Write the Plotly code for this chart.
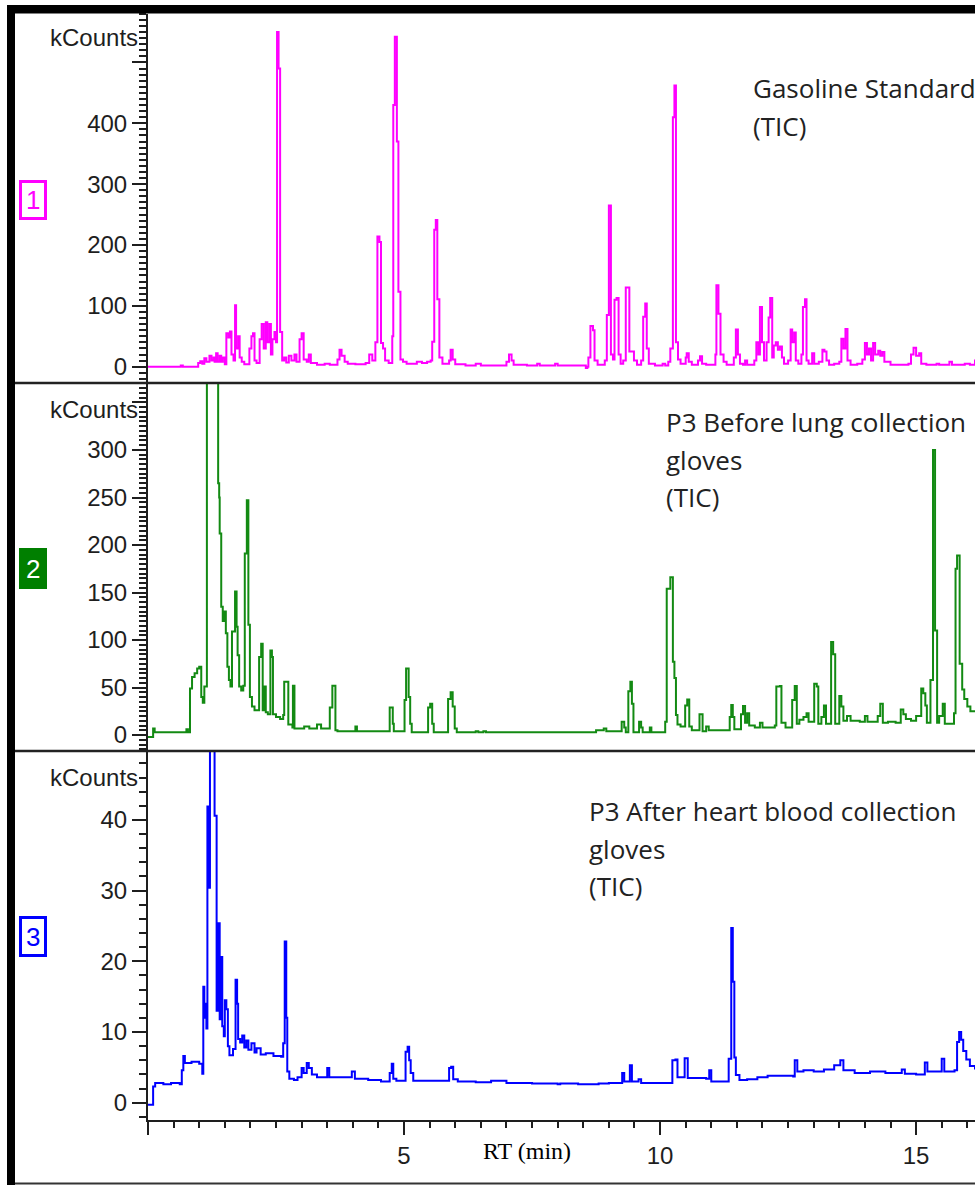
import plotly.graph_objects as go

W, H = 975, 1185

# Chromatogram readings: (retention time in min, intensity in kCounts)
gasoline_standard = [
    (0.00, 0), (0.64, 2), (0.68, 0), (0.98, 6), (1.02, 9), (1.06, 5), (1.10, 14), (1.14, 8),
    (1.20, 18), (1.24, 10), (1.28, 15), (1.30, 8), (1.33, 22), (1.36, 8), (1.40, 18), (1.43, 8),
    (1.46, 15), (1.50, 4), (1.53, 55), (1.57, 48), (1.60, 58), (1.63, 20), (1.67, 10), (1.70, 101),
    (1.72, 30), (1.76, 50), (1.79, 15), (1.83, 8), (1.88, 4), (1.98, 30), (2.02, 50), (2.05, 55),
    (2.08, 10), (2.12, 6), (2.18, 45), (2.22, 70), (2.26, 30), (2.30, 73), (2.33, 40), (2.37, 70),
    (2.40, 20), (2.43, 45), (2.47, 57), (2.50, 40), (2.52, 550), (2.55, 490), (2.58, 57), (2.62, 10),
    (2.66, 15), (2.70, 7), (2.75, 18), (2.80, 10), (2.86, 20), (2.90, 8), (2.96, 45), (3.00, 55),
    (3.04, 12), (3.10, 8), (3.14, 20), (3.18, 6), (3.30, 3), (3.45, 5), (3.55, 3), (3.70, 12),
    (3.74, 28), (3.78, 18), (3.84, 8), (3.90, 5), (4.05, 4), (4.25, 6), (4.32, 20), (4.38, 10),
    (4.44, 40), (4.48, 214), (4.52, 205), (4.55, 39), (4.59, 30), (4.63, 10), (4.70, 6), (4.77, 50),
    (4.79, 430), (4.82, 542), (4.86, 370), (4.89, 123), (4.93, 12), (4.98, 8), (5.05, 5), (5.25, 8),
    (5.35, 6), (5.45, 8), (5.52, 10), (5.55, 41), (5.59, 225), (5.62, 241), (5.65, 111), (5.69, 15),
    (5.75, 5), (5.88, 10), (5.91, 28), (5.95, 12), (6.00, 4), (6.20, 2), (6.40, 5), (6.50, 2),
    (6.90, 2), (7.00, 8), (7.05, 20), (7.10, 10), (7.14, 3), (7.40, 2), (7.60, 5), (7.65, 2),
    (7.95, 5), (8.00, 2), (8.55, -2), (8.58, 0), (8.60, 15), (8.64, 67), (8.69, 60), (8.72, 10),
    (8.78, 3), (8.92, 10), (8.96, 85), (9.00, 265), (9.04, 20), (9.08, 12), (9.11, 110), (9.15, 113),
    (9.19, 20), (9.23, 5), (9.28, 10), (9.33, 130), (9.40, 25), (9.49, 10), (9.55, 3), (9.63, 10),
    (9.67, 82), (9.71, 104), (9.74, 30), (9.78, 5), (9.90, 2), (10.05, 5), (10.10, 2), (10.16, 8),
    (10.20, 30), (10.25, 410), (10.28, 462), (10.31, 40), (10.35, 12), (10.40, 5), (10.50, 15), (10.52, 22),
    (10.56, 8), (10.62, 3), (10.74, 10), (10.78, 17), (10.82, 5), (10.90, 3), (11.05, 3), (11.08, 20),
    (11.10, 134), (11.14, 87), (11.18, 20), (11.24, 8), (11.30, 3), (11.44, 15), (11.48, 61), (11.52, 20),
    (11.56, 5), (11.62, 3), (11.66, 10), (11.70, 3), (11.84, 10), (11.88, 40), (11.92, 20), (11.95, 98),
    (11.99, 40), (12.03, 10), (12.08, 40), (12.12, 81), (12.15, 113), (12.19, 15), (12.22, 35), (12.26, 40),
    (12.30, 28), (12.34, 33), (12.38, 15), (12.42, 5), (12.50, 10), (12.55, 61), (12.58, 40), (12.62, 56),
    (12.65, 10), (12.70, 5), (12.76, 20), (12.79, 98), (12.83, 111), (12.86, 10), (12.90, 5), (12.97, 22),
    (13.01, 5), (13.10, 8), (13.17, 28), (13.21, 25), (13.25, 10), (13.30, 3), (13.40, 5), (13.50, 8),
    (13.54, 46), (13.58, 30), (13.62, 62), (13.66, 10), (13.72, 3), (13.85, 5), (13.95, 12), (14.00, 39),
    (14.04, 20), (14.08, 30), (14.12, 10), (14.16, 39), (14.20, 20), (14.26, 26), (14.30, 18), (14.34, 24),
    (14.38, 8), (14.50, 3), (14.70, 3), (14.85, 5), (14.90, 20), (14.95, 31), (15.00, 18), (15.06, 22),
    (15.10, 5), (15.20, 3), (15.40, 5), (15.45, 3), (15.65, 8), (15.70, 3), (15.95, 5), (16.05, 3),
    (16.15, 12),
]

p3_before_lung = [
    (0.00, -2), (0.10, 7), (0.13, 3), (0.75, 6), (0.78, 3), (0.82, 49), (0.86, 61), (0.91, 65),
    (0.96, 70), (1.00, 72), (1.04, 40), (1.07, 34), (1.10, 51), (1.15, 395), (1.37, 265), (1.39, 250),
    (1.40, 212), (1.43, 135), (1.46, 120), (1.49, 130), (1.52, 107), (1.55, 72), (1.58, 58), (1.61, 51),
    (1.64, 109), (1.70, 151), (1.73, 114), (1.75, 84), (1.78, 51), (1.82, 47), (1.86, 52), (1.89, 191),
    (1.93, 247), (1.96, 116), (1.99, 40), (2.03, 30), (2.08, 26), (2.17, 82), (2.21, 96), (2.24, 26),
    (2.27, 51), (2.30, 24), (2.34, 22), (2.39, 89), (2.42, 82), (2.44, 22), (2.50, 19), (2.58, 17),
    (2.64, 21), (2.66, 56), (2.74, 11), (2.82, 8), (2.83, 52), (2.86, 7), (2.95, 7), (3.05, 9),
    (3.15, 7), (3.30, 11), (3.38, 7), (3.55, 29), (3.60, 52), (3.66, 5), (3.70, 4), (4.05, 9),
    (4.08, 4), (4.72, 29), (4.78, 12), (4.80, 4), (5.01, 37), (5.04, 70), (5.09, 40), (5.12, 12),
    (5.15, 3), (5.47, 29), (5.51, 33), (5.55, 12), (5.58, 3), (5.86, 38), (5.91, 45), (5.95, 30),
    (5.99, 7), (6.03, 3), (6.40, 4), (6.45, 3), (6.55, 4), (6.60, 3), (8.70, 3), (8.75, 5),
    (8.90, 7), (8.95, 4), (9.25, 14), (9.30, 8), (9.33, 3), (9.38, 46), (9.42, 56), (9.45, 33),
    (9.48, 3), (9.59, 14), (9.63, 8), (9.66, 3), (9.80, 8), (9.83, 3), (10.10, 14), (10.13, 154),
    (10.20, 166), (10.25, 77), (10.28, 60), (10.31, 21), (10.34, 11), (10.40, 9), (10.49, 31), (10.53, 37.5),
    (10.57, 9), (10.62, 5), (10.77, 22), (10.83, 4), (10.90, 9), (10.95, 5), (11.20, 5), (11.36, 19),
    (11.39, 31.5), (11.42, 19), (11.45, 6), (11.58, 22), (11.62, 30.5), (11.66, 13), (11.70, 23), (11.74, 10),
    (11.85, 8), (11.95, 13), (12.00, 8), (12.24, 10), (12.27, 51), (12.34, 51.5), (12.37, 13), (12.45, 8),
    (12.58, 37), (12.63, 51.6), (12.67, 12), (12.72, 16), (12.80, 19), (12.86, 23), (12.90, 14), (13.01, 54),
    (13.06, 51), (13.09, 12), (13.15, 19), (13.20, 31), (13.24, 12), (13.34, 98), (13.38, 85), (13.42, 12),
    (13.50, 41), (13.54, 30), (13.58, 15), (13.65, 20), (13.72, 15), (13.90, 14), (14.00, 20), (14.05, 14),
    (14.25, 20), (14.30, 33), (14.35, 13), (14.45, 14), (14.60, 13), (14.70, 27), (14.75, 22), (14.80, 17),
    (14.90, 15), (15.00, 20), (15.10, 49), (15.14, 44), (15.18, 31), (15.21, 13), (15.28, 58), (15.33, 300),
    (15.37, 110), (15.41, 13), (15.45, 20), (15.52, 33), (15.56, 12), (15.68, 12), (15.74, 23), (15.77, 175),
    (15.80, 189), (15.85, 75), (15.90, 48), (15.94, 38), (16.00, 30), (16.06, 25), (16.15, 25),
]

p3_after_heart_blood = [
    (0.00, -0.3), (0.10, 2.3), (0.14, 2.8), (0.30, 2.6), (0.45, 2.8), (0.62, 2.6), (0.66, 4.6), (0.69, 6.6),
    (0.72, 5.6), (0.85, 5.8), (1.00, 5.5), (1.06, 4.1), (1.08, 16.4), (1.10, 12), (1.12, 14), (1.14, 10.5),
    (1.16, 41.9), (1.19, 30.4), (1.21, 52), (1.30, 40.6), (1.34, 13), (1.37, 25.4), (1.40, 11.8), (1.42, 20.6),
    (1.45, 10.8), (1.48, 9.4), (1.50, 14.5), (1.53, 13.2), (1.56, 8), (1.59, 6.7), (1.66, 7.6), (1.71, 17.4),
    (1.74, 14), (1.76, 9), (1.80, 8.5), (1.84, 9.5), (1.88, 7.8), (1.92, 8.8), (1.96, 7.5), (2.02, 8.4),
    (2.08, 7.1), (2.12, 7.7), (2.20, 6.8), (2.30, 7.0), (2.45, 6.6), (2.60, 6.5), (2.64, 8.4), (2.67, 22.8),
    (2.70, 12), (2.72, 4.4), (2.76, 3.4), (2.85, 3.2), (2.92, 3.6), (3.00, 4.9), (3.04, 4.2), (3.10, 5.6),
    (3.14, 4.9), (3.20, 4.0), (3.30, 3.6), (3.50, 4.9), (3.54, 3.6), (3.98, 4.4), (4.04, 3.4), (4.30, 3.2),
    (4.55, 3.0), (4.72, 4.2), (4.76, 5.5), (4.79, 3.4), (4.85, 3.1), (5.03, 7.2), (5.07, 7.9), (5.10, 6.0),
    (5.13, 4.2), (5.18, 3.1), (5.88, 4.9), (5.92, 5.1), (5.96, 3.3), (6.05, 3.0), (6.40, 2.9), (6.70, 3.1),
    (7.00, 2.8), (7.50, 2.7), (8.00, 2.6), (8.05, 2.7), (8.40, 2.6), (8.80, 2.7), (9.00, 2.8), (9.26, 4.2),
    (9.30, 3.0), (9.41, 5.3), (9.45, 3.0), (9.58, 3.3), (9.63, 2.8), (10.24, 6.0), (10.30, 6.1), (10.34, 3.6),
    (10.48, 6.3), (10.54, 3.5), (10.90, 3.4), (10.96, 4.6), (11.00, 3.0), (11.34, 6.2), (11.39, 24.7), (11.42, 17.1),
    (11.45, 6.4), (11.48, 3.9), (11.55, 3.2), (11.70, 3.3), (11.90, 3.6), (12.10, 3.8), (12.40, 3.8), (12.60, 3.7),
    (12.63, 6.0), (12.68, 4.4), (12.80, 4.6), (13.00, 4.4), (13.20, 4.7), (13.40, 5.3), (13.52, 6.0), (13.58, 4.6),
    (13.80, 4.2), (14.10, 4.4), (14.40, 4.2), (14.72, 4.7), (14.78, 4.1), (15.00, 4.0), (15.17, 5.7), (15.22, 4.4),
    (15.50, 6.2), (15.55, 4.4), (15.75, 4.6), (15.80, 8.6), (15.84, 10.0), (15.88, 8.9), (15.92, 7.3), (15.98, 6.1),
    (16.05, 5.2), (16.15, 4.7),
]

x_tick_vals = [0, 5, 10, 15]
x_tick_text = ["", "5", "10", "15"]
y1_tick_vals = [0, 100, 200, 300, 400, 500]
y1_tick_text = ["0", "100", "200", "300", "400", ""]
y2_tick_vals = [0, 50, 100, 150, 200, 250, 300, 350]
y2_tick_text = ["0", "50", "100", "150", "200", "250", "300", ""]
y3_tick_vals = [0, 10, 20, 30, 40]
y3_tick_text = ["0", "10", "20", "30", "40"]

panel_titles = [
    ["Gasoline Standard", "(TIC)"],
    ["P3 Before lung collection", "gloves", "(TIC)"],
    ["P3 After heart blood collection", "gloves", "(TIC)"],
]
panel_numbers = ["1", "2", "3"]
panel_colors = ["#ff00ff", "#138a13", "#0000ff"]


def fx(p):
    """pixel column -> paper x"""
    return p / W


def fy(p):
    """pixel row -> paper y"""
    return 1 - p / H


AXIS_COL = "#1e1e1e"
TICK_FONT = dict(family="Liberation Sans, Arial, sans-serif", size=24, color="#1e1e1e")
X_DOM = [fx(148), 1.0]
X_RANGE = [0, 16.15]

# panel boundaries in pixel rows: (top, bottom)
panel_rows = [(13.5, 383), (383, 751), (751, 1120)]
y_ranges = [[-26.8, 580.4], [-16.8, 370.5], [-2.45, 49.75]]
y_ticks = [(y1_tick_vals, y1_tick_text, 10), (y2_tick_vals, y2_tick_text, 5), (y3_tick_vals, y3_tick_text, 2)]
series = [gasoline_standard, p3_before_lung, p3_after_heart_blood]

fig = go.Figure()
layout = dict(
    width=W, height=H, autosize=False,
    margin=dict(l=0, r=0, t=0, b=0, pad=0),
    paper_bgcolor="white", plot_bgcolor="white",
    showlegend=False,
)

for i, (pts, color) in enumerate(zip(series, panel_colors)):
    n = i + 1
    sfx = str(n) if n > 1 else ""
    xs = [p[0] for p in pts]
    ys = [p[1] for p in pts]
    fig.add_trace(go.Scatter(
        x=xs, y=ys, mode="lines",
        line=dict(color=color, width=2, shape="hv"),
        xaxis="x" + sfx, yaxis="y" + sfx,
        hoverinfo="skip",
    ))
    top, bot = panel_rows[i]
    tv, tt, minor_step = y_ticks[i]
    layout["yaxis" + sfx] = dict(
        domain=[fy(bot), fy(top)], range=y_ranges[i],
        anchor="x" + sfx,
        showline=True, linecolor=AXIS_COL, linewidth=2,
        showgrid=False, zeroline=False,
        ticks="outside", ticklen=14, tickwidth=2, tickcolor=AXIS_COL,
        tickmode="array", tickvals=tv, ticktext=tt, tickfont=TICK_FONT,
        minor=dict(ticks="outside", ticklen=7, tickwidth=2, tickcolor=AXIS_COL,
                   tickmode="linear", tick0=0, dtick=minor_step, showgrid=False),
    )
    xa = dict(
        domain=X_DOM, range=X_RANGE, anchor="y" + sfx,
        showgrid=False, zeroline=False,
    )
    if n < 3:
        xa.update(showline=False, showticklabels=False, ticks="")
    else:
        xa.update(
            showline=True, linecolor=AXIS_COL, linewidth=2,
            ticks="outside", ticklen=13, tickwidth=2, tickcolor=AXIS_COL,
            tickmode="array", tickvals=x_tick_vals, ticktext=x_tick_text, tickfont=TICK_FONT,
            minor=dict(ticks="outside", ticklen=6, tickwidth=2, tickcolor=AXIS_COL,
                       tickmode="linear", tick0=0, dtick=0.5, showgrid=False),
        )
    layout["xaxis" + sfx] = xa

shapes = []
annotations = []

# outer frame: heavy bars on the left and top, thin rule at the bottom
shapes.append(dict(type="rect", xref="paper", yref="paper", x0=fx(7), x1=fx(15), y0=fy(1185), y1=fy(5),
                   fillcolor="black", line=dict(width=0), layer="above"))
shapes.append(dict(type="rect", xref="paper", yref="paper", x0=fx(7), x1=fx(975), y0=fy(13.5), y1=fy(5),
                   fillcolor="black", line=dict(width=0), layer="above"))
shapes.append(dict(type="line", xref="paper", yref="paper", x0=fx(15), x1=1, y0=fy(1183.5), y1=fy(1183.5),
                   line=dict(color="#333333", width=2)))
# separators between panels
for row in (383, 751):
    shapes.append(dict(type="line", xref="paper", yref="paper", x0=fx(15), x1=1, y0=fy(row), y1=fy(row),
                       line=dict(color="#222222", width=2.5)))

# numbered panel badges
badge_rows = [(180, 220), (548, 589), (916, 957)]
for i, (r0, r1) in enumerate(badge_rows):
    color = panel_colors[i]
    filled = i == 1
    shapes.append(dict(type="rect", xref="paper", yref="paper", x0=fx(20.5), x1=fx(45.5), y0=fy(r1 - 1.5), y1=fy(r0 + 1.5),
                       fillcolor=("#007f00" if filled else "rgba(0,0,0,0)"),
                       line=dict(color=("#007f00" if filled else color), width=3)))
    annotations.append(dict(xref="paper", yref="paper", x=fx(33), y=fy((r0 + r1) / 2),
                            text=panel_numbers[i], showarrow=False, xanchor="center", yanchor="middle",
                            font=dict(family="Liberation Sans, Arial, sans-serif", size=26,
                                      color=("white" if filled else color))))

# "kCounts" unit captions at the top of each y axis
for row in (38, 409, 777):
    annotations.append(dict(xref="paper", yref="paper", x=fx(140), y=fy(row), text="kCounts",
                            showarrow=False, xanchor="right", yanchor="middle", font=TICK_FONT))

# sample captions
title_pos = [(751, [88, 126]), (664, [422, 460, 497]), (587, [811, 849, 886])]
for lines, (col, rows) in zip(panel_titles, title_pos):
    for txt, row in zip(lines, rows):
        annotations.append(dict(xref="paper", yref="paper", x=fx(col), y=fy(row), text=txt,
                                showarrow=False, xanchor="left", yanchor="middle",
                                font=dict(family="Open Sans, Noto Sans, sans-serif", size=26, color="#222222")))

# x axis title
annotations.append(dict(xref="paper", yref="paper", x=fx(527), y=fy(1151), text="RT (min)",
                        showarrow=False, xanchor="center", yanchor="middle",
                        font=dict(family="Liberation Serif, Times New Roman, serif", size=24, color="black")))

layout["shapes"] = shapes
layout["annotations"] = annotations
fig.update_layout(**layout)
fig.write_html("out.html")
